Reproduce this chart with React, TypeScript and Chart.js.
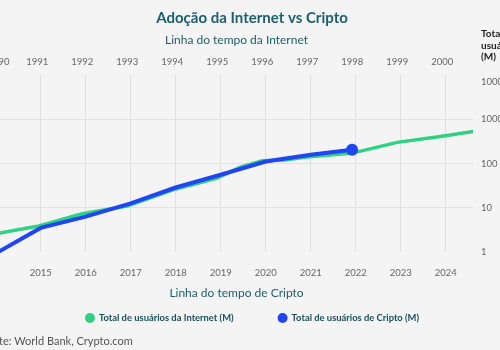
import React, { useEffect, useRef } from "react";
import { Chart, registerables } from "chart.js";

Chart.register(...registerables);

// ---- data ----
const internetYears = [1990, 1991, 1992, 1993, 1994, 1995, 1995.5, 1996, 1996.5, 1997, 1998, 1999, 2000, 2001];
const internetUsers = [2.5, 3.8, 7.3, 10.9, 25, 47, 82, 116, 120, 140, 172, 300, 412, 590];
const cryptoYears = [2014, 2015, 2016, 2017, 2018, 2019, 2020, 2021, 2021.92];
const cryptoUsers = [0.93, 3.5, 6.3, 12.6, 28.7, 55.6, 111, 157, 204];

const internetTickYears = [1990, 1991, 1992, 1993, 1994, 1995, 1996, 1997, 1998, 1999, 2000];
const cryptoTickYears = [2015, 2016, 2017, 2018, 2019, 2020, 2021, 2022, 2023, 2024];
const userTicks = [1, 10, 100, 1000, 10000];

const internetLabel = "Total de usuários da Internet (M)";
const cryptoLabel = "Total de usuários de Cripto (M)";
const titleText = "Adoção da Internet vs Cripto";
const topAxisTitle = "Linha do tempo da Internet";
const bottomAxisTitle = "Linha do tempo de Cripto";
const yAxisTitleLines = ["Total de", "usuários", "(M)"];
const sourceText = "Fonte: World Bank, Crypto.com";

// ---- style ----
const FONT = "Lato, 'Noto Sans', sans-serif";
const BG = "#f4f4f4";
const TEAL = "#1d5e6d";
const TEAL_DARK = "#17505d";
const GREEN = "#2fd283";
const BLUE = "#1f46f2";
const GRID = "#e0e0e0";
const TICK = "#666666";

const CANVAS_W = 564;
const CANVAS_H = 350;
const SHIFT = 30; // canvas is shifted left, so the picture is cropped like the reference

const decorPlugin = {
  id: "decor",
  beforeDraw(chart: any) {
    const ctx = chart.ctx;
    ctx.save();
    ctx.fillStyle = BG;
    ctx.fillRect(0, 0, chart.width, chart.height);
    ctx.restore();
  },
  afterDraw(chart: any) {
    const ctx = chart.ctx;
    const cx = 252 + SHIFT;
    ctx.save();
    // title
    ctx.fillStyle = TEAL;
    ctx.font = `bold 15px ${FONT}`;
    ctx.textAlign = "center";
    ctx.textBaseline = "middle";
    ctx.fillText(titleText, cx, 18);

    // right axis title
    const yS = chart.scales.y;
    ctx.fillStyle = "#222222";
    ctx.font = `bold 10px ${FONT}`;
    ctx.textAlign = "left";
    yAxisTitleLines.forEach((t, i) => ctx.fillText(t, yS.left + 8, 34 + i * 11.5));

    // top tick label of the log axis
    ctx.fillStyle = TICK;
    ctx.font = `9.5px ${FONT}`;
    const topVal = userTicks[userTicks.length - 1];
    ctx.fillText(String(topVal), yS.left + 8, yS.getPixelForValue(topVal) + 7);

    // first internet year label, kept inside the plot's left edge
    const xT = chart.scales.xTop;
    ctx.textAlign = "right";
    ctx.fillText(String(internetTickYears[0]), xT.left + 9.5, 62);

    // legend
    const items = chart.data.datasets
      .map((d: any) => ({ label: d.label, color: d.borderColor, order: d.legendOrder }))
      .sort((a: any, b: any) => a.order - b.order);
    ctx.font = `bold 9.4px ${FONT}`;
    const r = 5;
    const gapDot = 4;
    const gapItems = 44;
    const widths = items.map((it: any) => 2 * r + gapDot + ctx.measureText(it.label).width);
    const total = widths.reduce((a: number, b: number) => a + b, 0) + gapItems * (items.length - 1);
    let x = cx - total / 2;
    const ly = 318;
    items.forEach((it: any, i: number) => {
      ctx.beginPath();
      ctx.fillStyle = it.color;
      ctx.arc(x + r, ly, r, 0, Math.PI * 2);
      ctx.fill();
      ctx.fillStyle = TEAL_DARK;
      ctx.textAlign = "left";
      ctx.fillText(it.label, x + 2 * r + gapDot, ly);
      x += widths[i] + gapItems;
    });

    // source
    ctx.fillStyle = "#555555";
    ctx.font = `11px ${FONT}`;
    ctx.textAlign = "left";
    ctx.fillText(sourceText, SHIFT - 19, 341);
    ctx.restore();
  },
};

export default function App() {
  const ref = useRef<HTMLCanvasElement | null>(null);

  useEffect(() => {
    document.body.style.background = BG;
    const canvas = ref.current;
    if (!canvas) return;
    const lastCrypto = cryptoYears.length - 1;
    const chart = new Chart(canvas, {
      type: "line",
      data: {
        datasets: [
          {
            label: cryptoLabel,
            legendOrder: 2,
            data: cryptoYears.map((x, i) => ({ x, y: cryptoUsers[i] })),
            xAxisID: "x",
            yAxisID: "y",
            borderColor: BLUE,
            backgroundColor: BLUE,
            borderWidth: 4,
            tension: 0,
            pointRadius: (c: any) => (c.dataIndex === lastCrypto ? 6 : 0),
            pointBorderWidth: 0,
            pointHoverRadius: 0,
            clip: { left: 0, right: 0, top: 0, bottom: 5 },
            order: 0,
          } as any,
          {
            label: internetLabel,
            legendOrder: 1,
            data: internetYears.map((x, i) => ({ x, y: internetUsers[i] })),
            xAxisID: "xTop",
            yAxisID: "y",
            borderColor: GREEN,
            backgroundColor: GREEN,
            borderWidth: 3.5,
            tension: 0,
            pointRadius: 0,
            pointHoverRadius: 0,
            order: 1,
          } as any,
        ],
      },
      options: {
        animation: false,
        responsive: false,
        devicePixelRatio: 1,
        layout: { padding: { left: SHIFT, right: 0, top: 28, bottom: 45 } },
        plugins: {
          legend: { display: false },
          tooltip: { enabled: false },
          title: { display: false },
        },
        scales: {
          x: {
            type: "linear",
            position: "bottom",
            min: 2014.096,
            max: 2024.607,
            afterBuildTicks: (s: any) => {
              s.ticks = cryptoTickYears.map((v) => ({ value: v }));
            },
            afterFit: (s: any) => {
              s.height = 53;
              s.paddingLeft = 0;
              s.paddingRight = 0;
            },
            grid: { color: GRID, drawTicks: false, lineWidth: 1 },
            border: { display: false },
            ticks: {
              padding: 15,
              color: TICK,
              font: { family: FONT, size: 9.5 },
              maxRotation: 0,
              autoSkip: false,
              callback: (v: any) => String(v),
            },
            title: {
              display: true,
              text: bottomAxisTitle,
              color: TEAL,
              font: { family: FONT, size: 12 },
              padding: { top: 0, bottom: 5 },
            },
          },
          xTop: {
            type: "linear",
            position: "top",
            min: 1990.173,
            max: 2000.684,
            afterBuildTicks: (s: any) => {
              s.ticks = internetTickYears.map((v) => ({ value: v }));
            },
            afterFit: (s: any) => {
              s.height = 47;
              s.paddingLeft = 0;
              s.paddingRight = 0;
            },
            grid: { display: false, drawTicks: false },
            border: { display: false },
            ticks: {
              padding: 7,
              color: TICK,
              font: { family: FONT, size: 9.5 },
              maxRotation: 0,
              autoSkip: false,
              callback: (v: any) => (v === internetTickYears[0] ? "" : String(v)),
            },
            title: {
              display: true,
              text: topAxisTitle,
              color: TEAL,
              font: { family: FONT, size: 12 },
              padding: { top: 5, bottom: 0 },
            },
          },
          y: {
            type: "logarithmic",
            position: "right",
            min: 1,
            max: 10000,
            afterBuildTicks: (s: any) => {
              s.ticks = userTicks.map((v) => ({ value: v }));
            },
            afterFit: (s: any) => {
              s.width = 61;
              s.paddingTop = 0;
              s.paddingBottom = 0;
            },
            grid: {
              color: (c: any) =>
                c.tick && (c.tick.value === 1 || c.tick.value === 10000) ? "rgba(0,0,0,0)" : GRID,
              drawTicks: false,
            },
            border: { display: false },
            ticks: {
              padding: 8,
              color: TICK,
              font: { family: FONT, size: 9.5 },
              autoSkip: false,
              callback: (v: any) => (v === 10000 ? "" : String(v)),
            },
          },
        },
      } as any,
      plugins: [decorPlugin],
    });
    return () => chart.destroy();
  }, []);

  return (
    <div
      style={{
        position: "fixed",
        left: -SHIFT,
        top: 0,
        width: CANVAS_W,
        height: CANVAS_H,
        background: BG,
      }}
    >
      <canvas ref={ref} width={CANVAS_W} height={CANVAS_H} style={{ display: "block" }} />
    </div>
  );
}
